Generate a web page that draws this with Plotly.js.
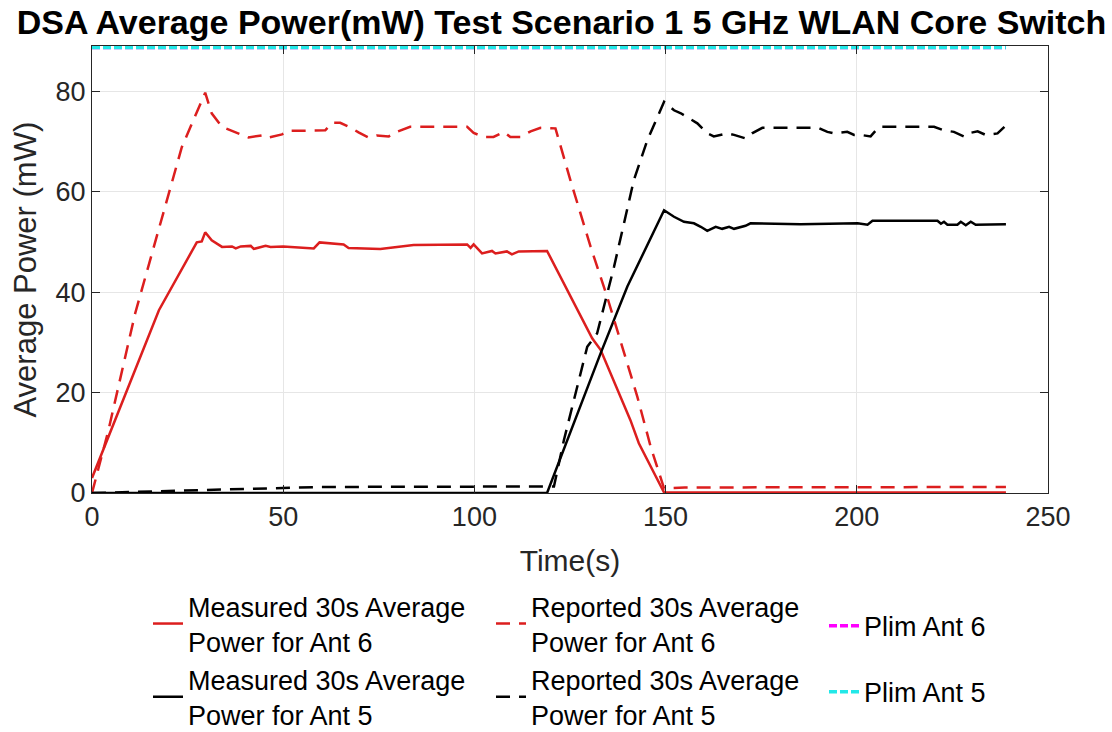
<!DOCTYPE html>
<html>
<head>
<meta charset="utf-8">
<script src="https://cdn.plot.ly/plotly-3.0.1.min.js"></script>
<style>
    html, body { margin: 0; padding: 0; background: #ffffff; }
    #chart { width: 1112px; height: 732px; }
</style>
</head>
<body>
<div id="chart"></div>
<script>
// Measured 30s average power, Ant 6 (mW)
const measAnt6Time = [0, 17.5, 27.4, 28.7, 29.6, 31.3, 34, 36.6, 37.6, 38.9, 41.5, 42.3, 45.4, 46.7, 50, 58, 59.5, 65.8, 67.1, 75.4, 84.1, 98.1, 99, 99.8, 102, 104.6, 105.5, 108.5, 109.8, 111.6, 119, 130.8, 133, 140.8, 143, 149.6, 239];
const measAnt6Power = [3, 36.4, 49.9, 50.1, 51.9, 50.3, 49, 49.1, 48.7, 49.1, 49.2, 48.6, 49.2, 49.0, 49.1, 48.7, 49.9, 49.5, 48.8, 48.6, 49.4, 49.5, 48.8, 49.5, 47.7, 48.2, 47.7, 48.1, 47.5, 48.1, 48.2, 30.8, 28.5, 14.5, 9.9, 0.1, 0.1];

// Reported 30s average power, Ant 6 (mW)
const repAnt6Time = [0, 4.3, 11.3, 20, 23.5, 29.6, 31.3, 34, 39.2, 40.9, 44.4, 45.7, 49.7, 51.4, 61, 62.7, 64.9, 68, 69.7, 72.3, 74.5, 77.6, 79.7, 83.2, 98.1, 99.8, 102.4, 105, 107.7, 109.4, 112, 114.7, 117.3, 121.2, 125.1, 130.4, 134.7, 138.2, 142.6, 146.1, 149.6, 155, 239];
const repAnt6Power = [0, 12.5, 35.8, 59.6, 68.9, 79.7, 75.6, 72.9, 71.2, 70.8, 71.2, 70.7, 71.4, 72.1, 72.2, 73.7, 73.7, 72.6, 71.8, 70.8, 71.2, 71, 71.9, 72.9, 72.9, 71.7, 70.9, 70.9, 71.9, 70.9, 70.9, 72, 72.7, 72.6, 62.3, 49, 39.1, 30.4, 19.2, 9.2, 0.9, 1.1, 1.2];

// Measured 30s average power, Ant 5 (mW)
const measAnt5Time = [0, 119, 133, 140, 149.6, 152.2, 154.8, 157.4, 159.2, 160.9, 163.1, 164.8, 166.6, 167.9, 170.9, 172.2, 185.3, 200.2, 202.8, 204.1, 221.1, 222, 222.8, 223.7, 226.3, 227.2, 228.5, 229.8, 231.1, 239];
const measAnt5Power = [0, 0, 27.8, 41.1, 56.3, 55, 54, 53.7, 53, 52.2, 53, 52.6, 53, 52.6, 53.2, 53.7, 53.5, 53.7, 53.4, 54.2, 54.2, 53.6, 54, 53.4, 53.4, 54, 53.3, 54, 53.4, 53.5];

// Reported 30s average power, Ant 5 (mW)
const repAnt5Time = [0, 20, 40, 60, 119, 120.8, 123.4, 129.5, 132.1, 136.5, 141.7, 145.2, 149.6, 152.2, 154, 158.3, 160.9, 162.6, 166.1, 167.9, 170.9, 172.6, 175.3, 190, 192.3, 194, 197.5, 199.3, 201, 203.6, 205.8, 220.2, 222.8, 225.4, 228, 229, 231.6, 233.7, 236.8, 238.6];
const repAnt5Power = [0, 0.4, 0.9, 1.2, 1.3, 1.3, 10.5, 29.1, 31.8, 45, 62.3, 70.2, 77.9, 76.2, 75.6, 73.6, 71.6, 71, 71.6, 71.3, 70.6, 71.6, 72.7, 72.7, 71.9, 71.6, 71.9, 71.3, 71.3, 71, 72.9, 72.9, 72.2, 71.9, 71, 71.6, 72, 71.3, 71.6, 72.9];

// Power limits (mW)
const plimTime = [0, 239];
const plimAnt6 = [88.7, 88.7];
const plimAnt5 = [88.7, 88.7];

const FONT = '"Liberation Sans", Arial, Helvetica, sans-serif';
const RED = '#dc1e1e';

const traces = [
    {
        x: measAnt6Time, y: measAnt6Power,
        name: 'Measured 30s Average<br>Power for Ant 6',
        type: 'scatter', mode: 'lines',
        line: { color: RED, width: 2.5 },
        legend: 'legend'
    },
    {
        x: measAnt5Time, y: measAnt5Power,
        name: 'Measured 30s Average<br>Power for Ant 5',
        type: 'scatter', mode: 'lines',
        line: { color: '#000000', width: 2.5 },
        legend: 'legend'
    },
    {
        x: repAnt6Time, y: repAnt6Power,
        name: 'Reported 30s Average<br>Power for Ant 6',
        type: 'scatter', mode: 'lines',
        line: { color: RED, width: 2.5, dash: '14px,9px' },
        legend: 'legend2'
    },
    {
        x: repAnt5Time, y: repAnt5Power,
        name: 'Reported 30s Average<br>Power for Ant 5',
        type: 'scatter', mode: 'lines',
        line: { color: '#000000', width: 2.5, dash: '14px,9px' },
        legend: 'legend2'
    },
    {
        x: plimTime, y: plimAnt6,
        name: 'Plim Ant 6',
        type: 'scatter', mode: 'lines',
        line: { color: '#ff00ff', width: 3.5, dash: '8px,3px' },
        legend: 'legend3', legendgroup: 'p6'
    },
    {
        x: plimTime, y: plimAnt5,
        name: 'Plim Ant 5',
        type: 'scatter', mode: 'lines',
        line: { color: '#22e8e8', width: 3.5, dash: '8px,3px' },
        legend: 'legend3', legendgroup: 'p5'
    }
];

const legendBase = {
    xref: 'container', yref: 'container',
    xanchor: 'left', yanchor: 'top',
    y: 0.205,
    bgcolor: 'rgba(0,0,0,0)',
    borderwidth: 0,
    font: { family: FONT, size: 27, color: '#000000' }
};

const layout = {
    width: 1112,
    height: 732,
    margin: { l: 92, r: 64, t: 46, b: 239, autoexpand: false },
    paper_bgcolor: '#ffffff',
    plot_bgcolor: '#ffffff',
    font: { family: FONT, color: '#262626' },
    title: {
        text: 'DSA Average Power(mW) Test Scenario 1 5 GHz WLAN Core Switch',
        font: { family: FONT, size: 34, color: '#000000', weight: 'bold' },
        xref: 'container', yref: 'container',
        x: 0.505, y: 0.97, xanchor: 'center', yanchor: 'middle'
    },
    xaxis: {
        title: { text: 'Time(s)', font: { size: 30, color: '#262626' }, standoff: 18 },
        range: [0, 250],
        dtick: 50,
        tickfont: { size: 27, color: '#262626' },
        ticks: 'inside', ticklen: 8, tickcolor: '#262626',
        showline: true, linecolor: '#262626', linewidth: 1, mirror: 'ticks',
        showgrid: true, gridcolor: '#e6e6e6', gridwidth: 1,
        zeroline: false
    },
    yaxis: {
        range: [0, 89],
        dtick: 20,
        tickfont: { size: 27, color: '#262626' },
        ticks: 'inside', ticklen: 8, tickcolor: '#262626',
        showline: true, linecolor: '#262626', linewidth: 1, mirror: 'ticks',
        showgrid: true, gridcolor: '#e6e6e6', gridwidth: 1,
        zeroline: false
    },
    annotations: [{
        // y axis title, placed by hand (axis title misplaces with container legends)
        text: 'Average Power (mW)',
        textangle: -90,
        xref: 'paper', yref: 'paper',
        x: -67 / 956, y: 0.5,
        xanchor: 'center', yanchor: 'middle',
        showarrow: false,
        font: { family: FONT, size: 31, color: '#262626' }
    }],
    legend: Object.assign({}, legendBase, { x: 148 / 1112 }),
    legend2: Object.assign({}, legendBase, { x: 491 / 1112 }),
    legend3: Object.assign({}, legendBase, { x: 824 / 1112, tracegroupgap: 28, traceorder: 'grouped', y: 0.178 }),
    showlegend: true
};

Plotly.newPlot('chart', traces, layout, { displayModeBar: false, responsive: false });
</script>
</body>
</html>
